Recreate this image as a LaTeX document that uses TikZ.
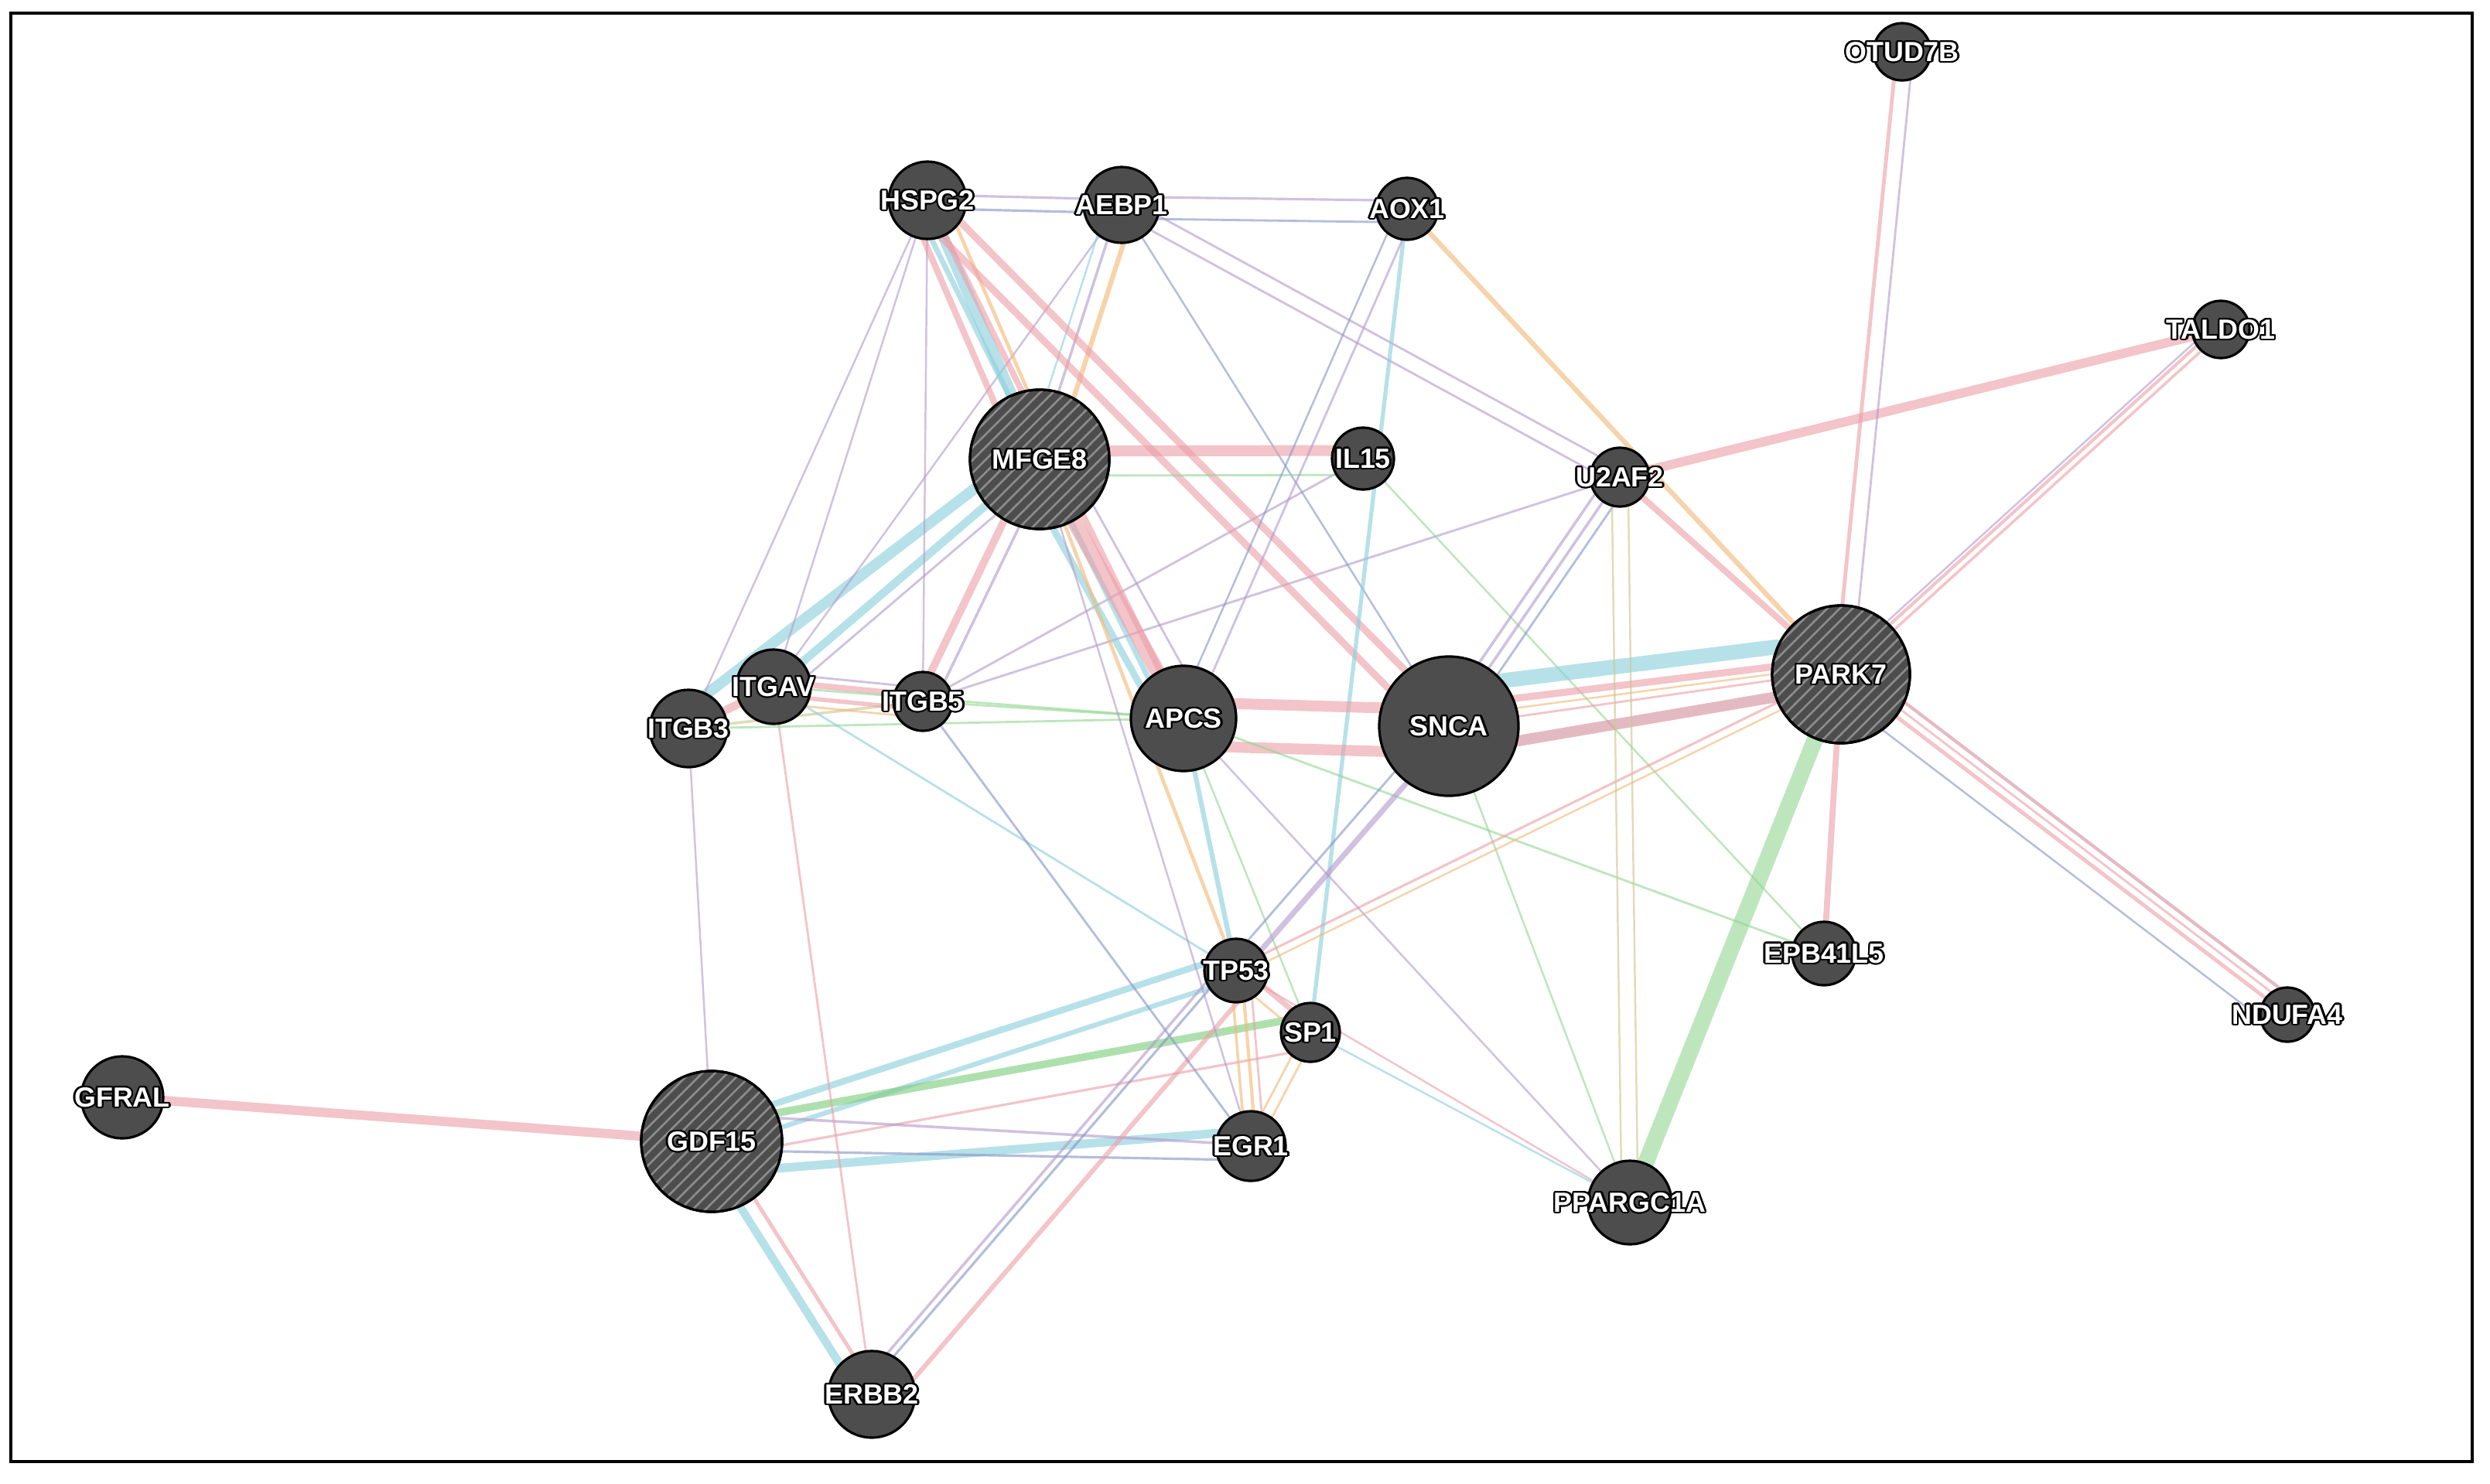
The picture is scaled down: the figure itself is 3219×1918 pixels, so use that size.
\documentclass[tikz,border=0pt]{standalone}
\usepackage{fontspec}
\newfontfamily\lbf{Liberation Sans}
\usetikzlibrary{calc,patterns.meta}
\definecolor{ngray}{RGB}{77,77,77}
\definecolor{hgray}{RGB}{140,140,140}
\definecolor{cpk}{RGB}{236,160,168}
\definecolor{cmv}{RGB}{212,145,158}
\definecolor{ccy}{RGB}{140,208,220}
\definecolor{cpu}{RGB}{180,155,205}
\definecolor{cbl}{RGB}{135,150,200}
\definecolor{cgr}{RGB}{150,215,150}
\definecolor{cgrb}{RGB}{125,205,125}
\definecolor{cor}{RGB}{243,185,120}
\definecolor{ctn}{RGB}{205,200,140}
\pgfdeclarelayer{bg}
\pgfdeclarelayer{edges}
\pgfsetlayers{bg,edges,main}
\newcommand\hsh[3]{\rlap{\kern#1\raisebox{#2}{\textcolor{black}{#3}}}}
\newcommand\halo[1]{\makebox[0pt]{%
\hsh{0.65pt}{0pt}{#1}\hsh{-0.65pt}{0pt}{#1}\hsh{0pt}{0.65pt}{#1}\hsh{0pt}{-0.65pt}{#1}%
\hsh{0.46pt}{0.46pt}{#1}\hsh{-0.46pt}{0.46pt}{#1}\hsh{0.46pt}{-0.46pt}{#1}\hsh{-0.46pt}{-0.46pt}{#1}%
\hsh{0.6pt}{0.25pt}{#1}\hsh{-0.6pt}{0.25pt}{#1}\hsh{0.6pt}{-0.25pt}{#1}\hsh{-0.6pt}{-0.25pt}{#1}%
\hsh{0.25pt}{0.6pt}{#1}\hsh{-0.25pt}{0.6pt}{#1}\hsh{0.25pt}{-0.6pt}{#1}\hsh{-0.25pt}{-0.6pt}{#1}%
\textcolor{white}{#1}}}
\newcommand\pe[4]{\draw[#1] ($(#2)!#4!90:(#3)$) -- ($(#3)!#4!-90:(#2)$);}
\tikzset{
  gene/.style={circle, draw=black, line width=0.9pt, fill=ngray, inner sep=0pt, text=white,
    font=\lbf\bfseries\fontsize{10.2}{12}\selectfont},
  hatch/.style={postaction={pattern={Lines[angle=45,distance=3.3pt,line width=0.75pt]}, pattern color=hgray},
    postaction={draw=black, line width=0.9pt}},
  ed/.style={draw opacity=0.62, line cap=round},
  lw/.style={line width=#1pt},
  pk/.style={ed, draw=cpk},
  mv/.style={ed, draw=cmv},
  cy/.style={ed, draw=ccy},
  pu/.style={ed, draw=cpu},
  bl/.style={ed, draw=cbl},
  gr/.style={ed, draw=cgr},
  grb/.style={ed, draw=cgrb},
  eor/.style={ed, draw=cor},
  tn/.style={ed, draw=ctn},
}
\begin{document}
\begin{tikzpicture}[x=0.01cm, y=-0.01cm]
\useasboundingbox (0,0) rectangle (3219,1918);
\begin{pgfonlayer}{bg}
\fill[white] (0,0) rectangle (3219,1918);
\end{pgfonlayer}
\draw[black, line width=1.2pt] (14,17) rectangle (3196,1890);

% nodes
\node[gene, minimum size=7.4mm] (OTUD7B) at (2459,67) {\halo{OTUD7B}};
\node[gene, minimum size=10mm] (HSPG2) at (1199,259) {\halo{HSPG2}};
\node[gene, minimum size=9.8mm] (AEBP1) at (1450,265) {\halo{AEBP1}};
\node[gene, minimum size=8mm] (AOX1) at (1819,270) {\halo{AOX1}};
\node[gene, minimum size=7.4mm] (TALDO1) at (2871,426) {\halo{TALDO1}};
\node[gene, hatch, minimum size=18mm] (MFGE8) at (1344,594) {\halo{MFGE8}};
\node[gene, minimum size=8mm] (IL15) at (1762,593) {\halo{IL15}};
\node[gene, minimum size=7.6mm] (U2AF2) at (2094,617) {\halo{U2AF2}};
\node[gene, hatch, minimum size=17.8mm] (PARK7) at (2380,872) {\halo{PARK7}};
\node[gene, minimum size=10mm] (ITGB3) at (890,942) {\halo{ITGB3}};
\node[gene, minimum size=9.6mm] (ITGAV) at (1000,888) {\halo{ITGAV}};
\node[gene, minimum size=7.6mm] (ITGB5) at (1193,907) {\halo{ITGB5}};
\node[gene, minimum size=13.6mm] (APCS) at (1530,929) {\halo{APCS}};
\node[gene, minimum size=18mm] (SNCA) at (1873,939) {\halo{SNCA}};
\node[gene, minimum size=8.2mm] (EPB41L5) at (2358,1233) {\halo{EPB41L5}};
\node[gene, minimum size=7mm] (NDUFA4) at (2957,1312) {\halo{NDUFA4}};
\node[gene, minimum size=8.2mm] (TP53) at (1598,1255) {\halo{TP53}};
\node[gene, minimum size=7.6mm] (SP1) at (1694,1335) {\halo{SP1}};
\node[gene, minimum size=10.6mm] (GFRAL) at (158,1419) {\halo{GFRAL}};
\node[gene, hatch, minimum size=18.2mm] (GDF15) at (920,1476) {\halo{GDF15}};
\node[gene, minimum size=9mm] (EGR1) at (1617,1482) {\halo{EGR1}};
\node[gene, minimum size=10.8mm] (PPARGC1A) at (2107,1555) {\halo{PPARGC1A}};
\node[gene, minimum size=11.2mm] (ERBB2) at (1127,1803) {\halo{ERBB2}};

\begin{pgfonlayer}{edges}
% GDF15 neighbourhood
\draw[pk,lw=3.4] (GFRAL) -- (GDF15);
\pe{cy,lw=3}{GDF15}{ERBB2}{-4pt}
\pe{pk,lw=1.4}{GDF15}{ERBB2}{2pt}
\pe{cy,lw=2.4}{GDF15}{TP53}{6pt}
\pe{cy,lw=1.8}{GDF15}{TP53}{-3pt}
\pe{grb,lw=2.8}{GDF15}{SP1}{6pt}
\pe{pk,lw=0.9}{GDF15}{SP1}{-6pt}
\draw[cy,lw=3.2] (GDF15.-22) -- (EGR1.159);
\draw[pu,lw=1] (GDF15.19) -- (EGR1.175);
\draw[bl,lw=0.9] (GDF15.-8) -- (EGR1.202);
\draw[pu,lw=0.7] (GDF15) -- (ITGB3);
\draw[pk,lw=0.8] (ITGAV) -- (ERBB2);
\pe{pk,lw=1.7}{ERBB2}{TP53}{-8pt}
\pe{bl,lw=0.9}{ERBB2}{TP53}{3pt}
\pe{pu,lw=1}{ERBB2}{TP53}{5.5pt}
% integrins
\draw[pk,lw=3] (ITGB3) -- (ITGAV);
\pe{cy,lw=4}{ITGB3}{MFGE8}{6pt}
\draw[tn,lw=1] (ITGB3) -- (ITGB5);
\draw[gr,lw=0.8] (ITGB3) -- (APCS);
\draw[pu,lw=0.7] (ITGB3) -- (HSPG2);
\draw[pu,lw=0.7] (ITGAV) -- (HSPG2);
\draw[pu,lw=0.7] (ITGAV) -- (AEBP1);
\draw[cy,lw=3] (ITGAV) -- (MFGE8);
\pe{pu,lw=0.8}{ITGAV}{MFGE8}{-5pt}
\pe{pk,lw=2.2}{ITGAV}{ITGB5}{2pt}
\pe{pk,lw=1.6}{ITGAV}{ITGB5}{-3pt}
\pe{eor,lw=0.8}{ITGAV}{ITGB5}{-6pt}
\pe{pu,lw=0.8}{ITGAV}{ITGB5}{5pt}
\draw[gr,lw=0.8] (ITGAV) -- (APCS);
\draw[cy,lw=0.8] (ITGAV) -- (TP53);
\draw[pu,lw=0.7] (ITGB5) -- (HSPG2);
\pe{pk,lw=2.8}{ITGB5}{MFGE8}{2pt}
\pe{pu,lw=1}{ITGB5}{MFGE8}{-4pt}
\draw[gr,lw=0.8] (ITGB5) -- (APCS);
\draw[pu,lw=0.8] (ITGB5) -- (IL15);
\draw[pu,lw=0.8] (ITGB5) -- (U2AF2);
\draw[bl,lw=0.8] (ITGB5) -- (EGR1);
% top row
\pe{pu,lw=0.9}{HSPG2}{AEBP1}{2pt}
\pe{bl,lw=0.9}{HSPG2}{AEBP1}{-3pt}
\pe{pu,lw=0.9}{AEBP1}{AOX1}{3pt}
\pe{bl,lw=0.8}{AEBP1}{AOX1}{-5pt}
\pe{pu,lw=0.8}{AEBP1}{U2AF2}{3pt}
\pe{pu,lw=0.8}{AEBP1}{U2AF2}{-3pt}
\pe{eor,lw=1.8}{AEBP1}{MFGE8}{5pt}
\pe{pu,lw=1}{AEBP1}{MFGE8}{-1pt}
\pe{cy,lw=0.7}{AEBP1}{MFGE8}{-5pt}
\draw[bl,lw=0.7] (AEBP1) -- (SNCA);
\pe{pk,lw=2.3}{HSPG2}{MFGE8}{-7pt}
\draw[cy,lw=4] (HSPG2) -- (MFGE8);
\pe{eor,lw=1.3}{HSPG2}{MFGE8}{6pt}
\draw[pk,lw=2.2] (HSPG2) -- (APCS);
\pe{cy,lw=2}{HSPG2}{APCS}{-5pt}
\pe{pk,lw=2.6}{HSPG2}{SNCA}{3pt}
\pe{pk,lw=2.6}{HSPG2}{SNCA}{-6pt}
% MFGE8
\pe{pk,lw=4}{MFGE8}{IL15}{3pt}
\pe{gr,lw=0.8}{MFGE8}{IL15}{-6pt}
\draw[pk,lw=5.5] (MFGE8) -- (APCS);
\pe{cy,lw=2.5}{MFGE8}{APCS}{-8pt}
\pe{pu,lw=0.8}{MFGE8}{APCS}{9pt}
\draw[eor,lw=1.3] (MFGE8) -- (TP53);
\draw[pu,lw=0.7] (MFGE8) -- (EGR1);
% AOX1, IL15
\draw[eor,lw=1.8] (AOX1) -- (PARK7);
\draw[cy,lw=1.5] (AOX1) -- (SP1);
\pe{pu,lw=0.8}{AOX1}{APCS}{3pt}
\pe{bl,lw=0.7}{AOX1}{APCS}{-3pt}
\draw[gr,lw=0.7] (IL15) -- (EPB41L5);
% APCS
\pe{pk,lw=4}{APCS}{SNCA}{6pt}
\pe{pk,lw=4}{APCS}{SNCA}{-10pt}
\draw[cy,lw=1.8] (APCS) -- (TP53);
\draw[gr,lw=0.7] (APCS) -- (SP1);
\draw[gr,lw=0.8] (APCS) -- (EPB41L5);
\draw[pu,lw=0.7] (APCS) -- (PPARGC1A);
% SNCA
\draw[cy,lw=5.5] (SNCA.40) -- (PARK7.157);
\draw[pk,lw=2.6] (SNCA.23) -- (PARK7.174);
\draw[mv,lw=4] (SNCA.-12) -- (PARK7.199);
\draw[pk,lw=0.8] (SNCA.8) -- (PARK7.185);
\draw[eor,lw=0.7] (SNCA.15) -- (PARK7.180);
\pe{pu,lw=1}{SNCA}{U2AF2}{4pt}
\pe{pu,lw=1}{SNCA}{U2AF2}{0pt}
\pe{bl,lw=0.8}{SNCA}{U2AF2}{-4pt}
\pe{pu,lw=2}{SNCA}{TP53}{2pt}
\pe{bl,lw=0.8}{SNCA}{TP53}{-4pt}
\draw[gr,lw=0.7] (SNCA) -- (PPARGC1A);
% PARK7
\draw[pk,lw=2.3] (PARK7) -- (U2AF2);
\pe{pk,lw=1.2}{PARK7}{TALDO1}{1.5pt}
\pe{pk,lw=1}{PARK7}{TALDO1}{-1pt}
\pe{pu,lw=0.7}{PARK7}{TALDO1}{3pt}
\draw[pk,lw=3.4] (U2AF2) -- (TALDO1);
\pe{pk,lw=1.4}{OTUD7B}{PARK7}{-2pt}
\pe{pu,lw=0.8}{OTUD7B}{PARK7}{4pt}
\draw[pk,lw=2.2] (PARK7) -- (EPB41L5);
\draw[gr,lw=6] (PARK7) -- (PPARGC1A);
\draw[pk,lw=1.4] (PARK7) -- (NDUFA4);
\pe{pk,lw=0.8}{PARK7}{NDUFA4}{3pt}
\pe{mv,lw=1.2}{PARK7}{NDUFA4}{6pt}
\pe{bl,lw=0.7}{PARK7}{NDUFA4}{-7pt}
\pe{pk,lw=0.9}{TP53}{PARK7}{1pt}
\pe{eor,lw=0.7}{TP53}{PARK7}{-2pt}
% lower centre
\pe{tn,lw=0.7}{U2AF2}{PPARGC1A}{3pt}
\pe{tn,lw=0.7}{U2AF2}{PPARGC1A}{-3pt}
\draw[pk,lw=0.7] (TP53) -- (PPARGC1A);
\draw[cy,lw=0.7] (SP1) -- (PPARGC1A);
\pe{pk,lw=2}{TP53}{SP1}{2pt}
\pe{eor,lw=0.8}{TP53}{SP1}{-3pt}
\pe{eor,lw=1.2}{TP53}{EGR1}{2pt}
\pe{eor,lw=1}{TP53}{EGR1}{-2pt}
\pe{pk,lw=0.8}{TP53}{EGR1}{5pt}
\pe{eor,lw=0.8}{SP1}{EGR1}{2pt}
\pe{eor,lw=0.8}{SP1}{EGR1}{-2pt}
\end{pgfonlayer}
\end{tikzpicture}
\end{document}
